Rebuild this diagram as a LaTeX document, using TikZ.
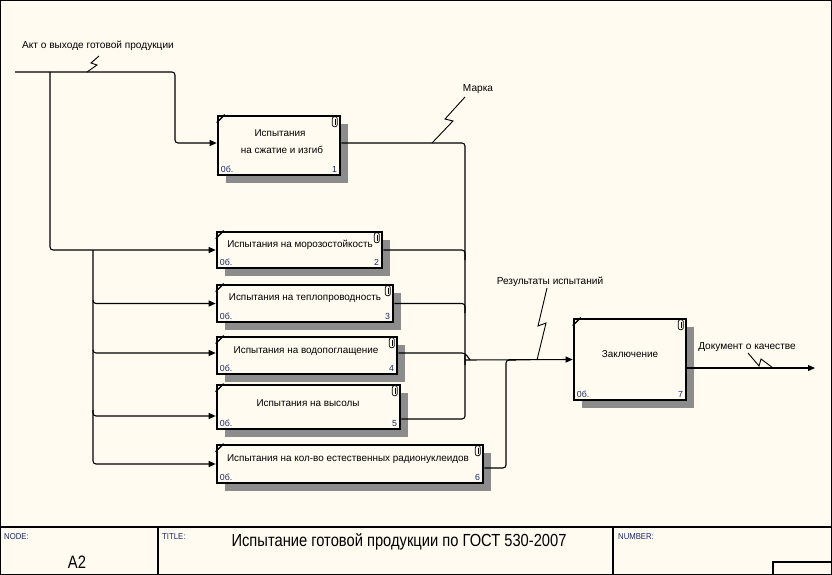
\documentclass[tikz,border=0pt]{standalone}
\usepackage{fontspec}
\setmainfont{Liberation Sans}
\usetikzlibrary{arrows.meta,shadows}
\definecolor{bg}{RGB}{255,251,240}
\definecolor{navy}{RGB}{25,40,105}
\begin{document}
\begin{tikzpicture}[x=1pt,y=-1pt,
  box/.style={draw, line width=2.6, fill=bg, inner sep=0,
    drop shadow={shadow xshift=8pt, shadow yshift=-8pt, fill=black!45, opacity=1}},
  btxt/.style={font=\fontsize{9.9}{11}\selectfont, inner sep=0},
  lbl/.style={font=\fontsize{10.1}{11}\selectfont, inner sep=0},
  num/.style={font=\fontsize{8.8}{10}\selectfont, text=navy, inner sep=0},
  hdr/.style={font=\fontsize{8.6}{10}\selectfont, text=navy, inner sep=0, anchor=west},
  conn/.style={line width=1.1, rounded corners=3},
  arr/.style={conn, -{Triangle[length=7pt,width=6pt]}},
  squig/.style={line width=0.9}
]
\useasboundingbox (0,0) rectangle (832,575);
\fill[bg] (0,0) rectangle (832,575);
\draw[line width=1.2] (0.6,0.6) rectangle (831.4,574.4);

% boxes
\node[box, minimum width=122, minimum height=59] (b1) at (279,145.5) {};
\node[box, minimum width=165, minimum height=36] (b2) at (299.5,250) {};
\node[box, minimum width=176, minimum height=37] (b3) at (305,303.5) {};
\node[box, minimum width=180, minimum height=37] (b4) at (307,355.5) {};
\node[box, minimum width=183, minimum height=44] (b5) at (308.5,407) {};
\node[box, minimum width=266, minimum height=38] (b6) at (350,464) {};
\node[box, minimum width=112, minimum height=81] (b7) at (630,359.5) {};

% box decorations
\foreach \b/\n in {b1/1,b2/2,b3/3,b4/4,b5/5,b6/6,b7/7}{
  \draw[line width=1.5] ([yshift=-8]\b.north west) -- ([xshift=8]\b.north west);
  \draw[line width=0.7, rounded corners=2] ([xshift=-9,yshift=-2]\b.north east) rectangle ([xshift=-4,yshift=-12]\b.north east);
  \draw[line width=0.6] ([xshift=-6.5,yshift=-4]\b.north east) -- ([xshift=-6.5,yshift=-10]\b.north east);
  \node[num, anchor=west] (o\b) at ([xshift=4,yshift=7]\b.south west) {0б.};
  \node[num, anchor=east] (n\b) at ([xshift=-4,yshift=7]\b.south east) {\n};
}

% box texts
\node[btxt] (t1a) at (280,133) {Испытания};
\node[btxt] (t1b) at (282,150) {на сжатие и изгиб};
\node[btxt] (t2) at (300,245) {Испытания на морозостойкость};
\node[btxt] (t3) at (305,298) {Испытания на теплопроводность};
\node[btxt] (t4) at (306,351) {Испытания на водопоглащение};
\node[btxt] (t5) at (308,403) {Испытания на высолы};
\node[btxt] (t6) at (348,459) {Испытания на кол-во естественных радионуклеидов};
\node[btxt] (t7) at (630,354) {Заключение};

% inputs
\coordinate (in0) at (15,72);
\draw[arr] (in0) -- (175,72) -- (175,143) -- ([yshift=2.5]b1.west);
\draw[arr] (50,72) -- (50,250) -- (b2.west);
\draw[arr] (93,250) -- (93,303.5) -- (b3.west);
\draw[arr] (93,300) -- (93,353) -- ([yshift=2.5]b4.west);
\draw[arr] (93,350) -- (93,416) -- ([yshift=-9]b5.west);
\draw[arr] (93,410) -- (93,464) -- (b6.west);

% outputs
\coordinate (j) at (465,360);
\draw[conn] ([yshift=2.5]b1.east) -- (465,143) -- (465,365);
\draw[conn] (b2.east) -- (465,250) -- (465,260);
\draw[conn] (b3.east) -- (465,303.5) -- (465,313);
\draw[conn] ([yshift=2.5]b4.east) -- (465,353) -- (470,360);
\draw[conn] ([yshift=-12]b5.east) -- (465,419) -- (465,355);
\draw[conn] ([yshift=-4]b6.east) -- (506,468) -- (506,360) -- (516,360);
\draw[arr] (j) -- (b7.west);
\coordinate (out0) at (815,368);
\draw[arr] ([yshift=-8.5]b7.east) -- (out0);

% labels
\node[lbl] (la) at (98,46) {Акт о выходе готовой продукции};
\draw[squig] (87,72) -- (97,65) -- (91,63) -- (99,56);
\node[lbl] (lm) at (478,89) {Марка};
\draw[squig] (432,143) -- (453,121) -- (445,119) -- (465,97);
\node[lbl] (lr) at (550,282) {Результаты испытаний};
\draw[squig] (537,360) -- (546,323) -- (538,326) -- (547,288);
\node[lbl] (ld) at (747,347) {Документ о качестве};
\draw[squig] (748,353) -- (759,366) -- (761,359) -- (773,368);

% title bar
\draw[line width=1.2] (0,527) -- (832,527);
\draw[line width=1.2] (158,527) -- (158,575);
\draw[line width=1.2] (613,527) -- (613,575);
\draw[line width=1.2] (773,575) -- (773,562) -- (832,562);
\node[hdr] (hn) at (4,537) {\addfontfeature{FakeStretch=0.9}NODE:};
\node[hdr] (ht) at (162,537) {\addfontfeature{FakeStretch=0.9}TITLE:};
\node[hdr] (hnum) at (618,537) {\addfontfeature{FakeStretch=0.9}NUMBER:};
\node[inner sep=0, font=\fontsize{18}{20}\selectfont\addfontfeature{FakeStretch=0.82}] (a2) at (77,562) {A2};
\node[inner sep=0, font=\fontsize{17.5}{20}\selectfont\addfontfeature{FakeStretch=0.84}] (title) at (399,542) {Испытание готовой продукции по ГОСТ 530-2007};
\end{tikzpicture}
\end{document}
